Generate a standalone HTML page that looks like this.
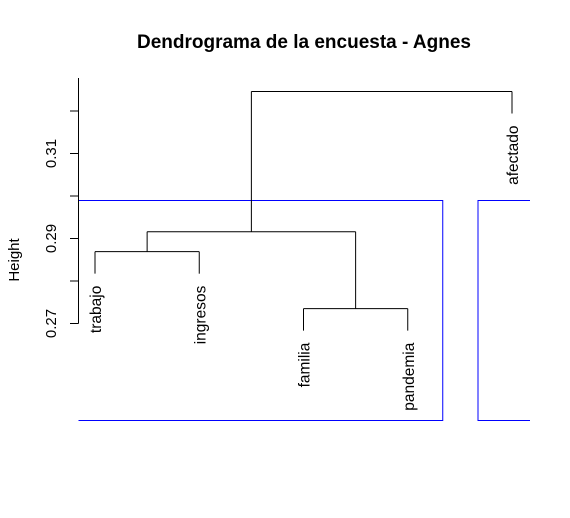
<!DOCTYPE html>
<html><head><meta charset="utf-8"><style>body{margin:0;background:#fff}svg{display:block}</style></head>
<body>
<svg width="570" height="518" xmlns="http://www.w3.org/2000/svg" font-family="Liberation Sans, Arial, sans-serif">
<rect width="570" height="518" fill="#fff"/>
<text x="304" y="48" text-anchor="middle" font-size="19" font-weight="bold">Dendrograma de la encuesta - Agnes</text>
<text transform="translate(19,260) rotate(-90)" text-anchor="middle" font-size="15">Height</text>
<g id="rects"></g>
<g id="axis"></g>
<g id="tree"></g>
</svg>
<script>
const leaves = ["trabajo","ingresos","familia","pandemia","afectado"];
const mergeLeft = ["trabajo","familia","m1","m3"];
const mergeRight = ["ingresos","pandemia","m2","afectado"];
const mergeHeights = [0.2869, 0.2735, 0.2916, 0.3246];
const tickValues = [0.27,0.28,0.29,0.30,0.31,0.32];
const tickLabels = ["0.27","","0.29","","0.31",""];
const clusterGroups = [[0,3],[4,4]];

const NS="http://www.w3.org/2000/svg";
const y = v => 323.5 - (v-0.27)*4250;
const x = i => 95 + i*104.25;
const hang = 22;
function mk(tag, attrs, parent){const e=document.createElementNS(NS,tag);for(const k in attrs)e.setAttribute(k,attrs[k]);parent.appendChild(e);return e;}
const axis=document.getElementById('axis'), tree=document.getElementById('tree'), rects=document.getElementById('rects');
mk('line',{x1:78.5,x2:78.5,y1:78,y2:y(0.27),stroke:'#000'},axis);
tickValues.forEach((v,i)=>{
  const t=mk('line',{x1:70,x2:78.5,y1:y(v),y2:y(v),stroke:'#000'},axis);
  
  
  if(tickLabels[i]){
    const l=mk('text',{transform:`translate(56,${y(v)}) rotate(-90)`,'text-anchor':'middle','font-size':15},axis);
    l.textContent=tickLabels[i];
    
    
  }
});
const nodes={};
leaves.forEach((n,i)=>nodes[n]={x:x(i),leaf:true});
mergeHeights.forEach((h,i)=>{
  const a=nodes[mergeLeft[i]], b=nodes[mergeRight[i]], yy=y(h);
  [a,b].forEach(c=>{
    if(c.leaf){c.y=yy+hang;}
    mk('line',{x1:c.x,x2:c.x,y1:yy,y2:c.y,stroke:'#000'},tree);
  });
  const p=mk('line',{x1:a.x,x2:b.x,y1:yy,y2:yy,stroke:'#000'},tree);
  
  
  nodes['m'+(i+1)]={x:(a.x+b.x)/2,y:yy};
});
leaves.forEach(n=>{
  const c=nodes[n];
  const t=mk('text',{transform:`translate(${c.x+6},${c.y+12}) rotate(-90)`,'text-anchor':'end','font-size':15.5},tree);
  t.textContent=n;
  
  
});
const ry1=200.5, ry2=420.5;
clusterGroups.forEach(g=>{
  let d;
  if(g[1]<4){
    const xl=78.5, xr=x(g[1])+35;
    d=`M${xl},${ry1}H${xr}V${ry2}H${xl}`;
  } else {
    const xl=x(g[0])-34, xr=530;
    d=`M${xr},${ry1}H${xl}V${ry2}H${xr}`;
  }
  const r=mk('path',{d:d,fill:'none',stroke:'#0000ff'},rects);
  
  
});
</script>
</body></html>
